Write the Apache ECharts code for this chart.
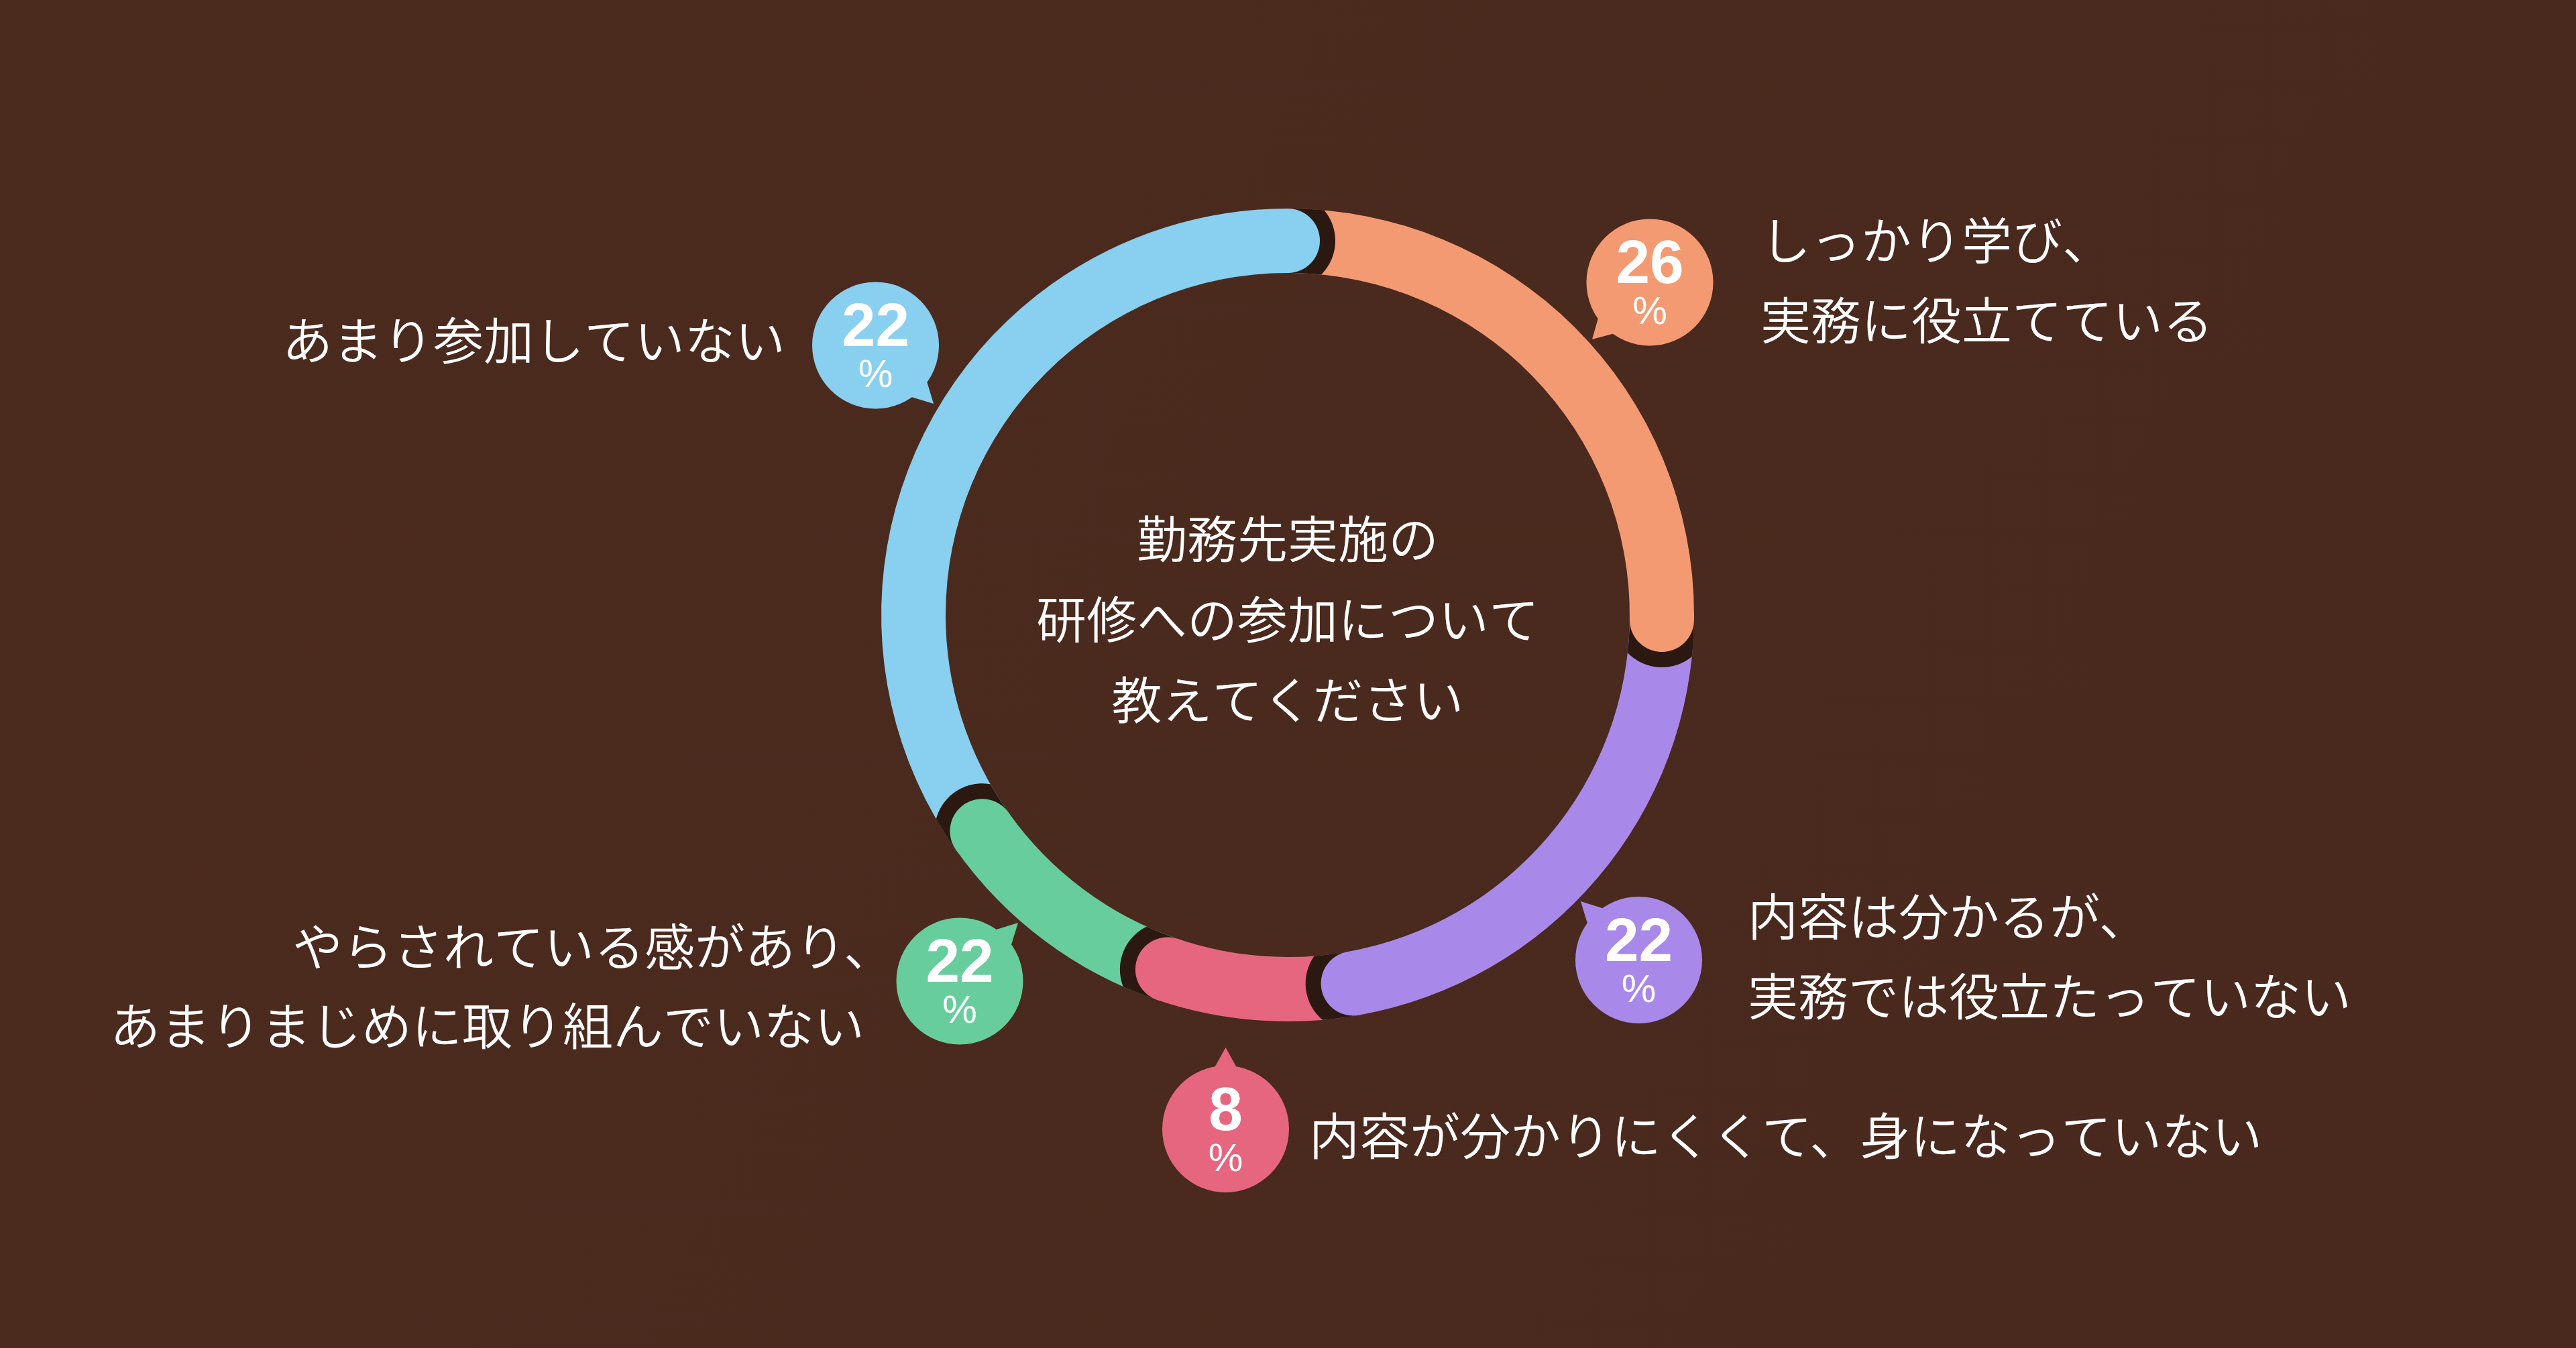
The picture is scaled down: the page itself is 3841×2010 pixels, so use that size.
<!DOCTYPE html>
<html>
<head>
<meta charset="utf-8">
<script src="https://cdn.jsdelivr.net/npm/echarts@6/dist/echarts.min.js"></script>
<style>
html,body{margin:0;padding:0;background:#4a291e;overflow:hidden;}
#chart{width:3841px;height:2010px;}
</style>
</head>
<body>
<div id="chart"></div>
<script>
// ---------------- data ----------------
const categories = [
  'しっかり学び、実務に役立てている',
  '内容は分かるが、実務では役立たっていない',
  '内容が分かりにくくて、身になっていない',
  'やらされている感があり、あまりまじめに取り組んでいない',
  'あまり参加していない'
];
const labelLines = [
  ['しっかり学び、', '実務に役立てている'],
  ['内容は分かるが、', '実務では役立たっていない'],
  ['内容が分かりにくくて、身になっていない'],
  ['やらされている感があり、', 'あまりまじめに取り組んでいない'],
  ['あまり参加していない']
];
const percentLabels = [26, 22, 8, 22, 22];          // numbers printed in the bubbles
const arcShares = [25.2, 22.0, 8.0, 10.0, 34.8];    // ring arc sizes as drawn
const centerTitle = ['勤務先実施の', '研修への参加について', '教えてください'];

// ---------------- style / layout ----------------
const colors = ['#f49a73', '#a889ea', '#e66680', '#68cd9c', '#89cfef'];
const DARK = '#2a1811';
const CX = 1920, CY = 917, R_IN = 510, R_OUT = 606, GAP = 23;
const BUBBLE_R = 94.5;
const bubbles = [ // center, tail tip offset
  {x: 2460, y: 421, tx: -86, ty: 85},
  {x: 2443.5, y: 1431.5, tx: -86.5, ty: -87.5},
  {x: 1827.5, y: 1683.5, tx: 0, ty: -121.5},
  {x: 1431, y: 1463, tx: 87, ty: -87},
  {x: 1305.5, y: 515, tx: 86.5, ty: 87}
];
const textPos = [ // per line: x, y, align
  [[2625, 358, 'left'], [2625, 477, 'left']],
  [[2606, 1366, 'left'], [2606, 1485, 'left']],
  [[1952, 1693, 'left']],
  [[436, 1411, 'left'], [164, 1529, 'left']],
  [[1171, 507, 'right']]
];
const JP = '"Noto Sans CJK JP", "Noto Sans CJK SC", sans-serif';
const NUM = '"Liberation Sans", Arial, Helvetica, sans-serif';
const JP_FONT = '350 75px ' + JP;

const total = arcShares.reduce((a, b) => a + b, 0);

function renderCap(params, api) {
  const i = params.dataIndex;
  let cum = 0;
  for (let k = 0; k <= i; k++) cum += arcShares[k];
  const th = cum / total * Math.PI * 2;
  const rm = (R_IN + R_OUT) / 2, half = (R_OUT - R_IN) / 2, R2 = half + GAP;
  const ux = Math.sin(th), uy = -Math.cos(th);
  const vx = Math.cos(th), vy = Math.sin(th);
  const c0x = CX + rm * ux, c0y = CY + rm * uy;
  const dark = [], cap = [];
  const N = 160;
  for (let s = 0; s <= N; s++) {
    const phi = Math.PI * s / N;
    const cp = Math.cos(phi), sp = Math.sin(phi);
    const px = c0x + R2 * (cp * ux + sp * vx);
    const py = c0y + R2 * (cp * uy + sp * vy);
    const dx = px - CX, dy = py - CY;
    const r = Math.hypot(dx, dy);
    const rc = Math.min(R_OUT, Math.max(R_IN, r));
    dark.push([CX + dx / r * rc, CY + dy / r * rc]);
    cap.push([c0x + half * (cp * ux + sp * vx), c0y + half * (cp * uy + sp * vy)]);
  }
  const back = th - 4 / rm;
  cap.unshift([CX + R_OUT * Math.sin(back), CY - R_OUT * Math.cos(back)]);
  cap.push([CX + R_IN * Math.sin(back), CY - R_IN * Math.cos(back)]);
  return {
    type: 'group',
    children: [
      {type: 'polygon', shape: {points: dark}, style: {fill: DARK}},
      {type: 'polygon', shape: {points: cap}, style: {fill: colors[i]}}
    ]
  };
}

const graphics = [];
// center title
centerTitle.forEach((t, j) => {
  graphics.push({
    type: 'text', silent: true, z: 10,
    x: CX, y: 803 + j * 120,
    style: {text: t, fill: '#ffffff', font: JP_FONT, align: 'center', verticalAlign: 'middle'}
  });
});
// bubbles and labels
bubbles.forEach((b, i) => {
  const ang = Math.atan2(b.ty, b.tx);
  const da = 11 * Math.PI / 180, rb = BUBBLE_R * 0.97;
  graphics.push({
    type: 'group', x: b.x, y: b.y, silent: true, z: 10,
    children: [
      {type: 'polygon', shape: {points: [
        [Math.cos(ang - da) * rb, Math.sin(ang - da) * rb],
        [b.tx, b.ty],
        [Math.cos(ang + da) * rb, Math.sin(ang + da) * rb],
        [0, 0]
      ]}, style: {fill: colors[i]}},
      {type: 'circle', shape: {cx: 0, cy: 0, r: BUBBLE_R}, style: {fill: colors[i]}},
      {type: 'text', x: 0, y: -24, style: {text: String(percentLabels[i]), fill: '#fff', font: 'bold 91px ' + NUM, align: 'center', verticalAlign: 'middle'}},
      {type: 'text', x: 0, y: 46, style: {text: '%', fill: '#fff', font: '58px ' + NUM, align: 'center', verticalAlign: 'middle'}}
    ]
  });
  labelLines[i].forEach((line, j) => {
    const p = textPos[i][j];
    graphics.push({
      type: 'text', x: p[0], y: p[1], silent: true, z: 10,
      style: {text: line, fill: '#ffffff', font: JP_FONT, align: p[2], verticalAlign: 'middle'}
    });
  });
});

const chart = echarts.init(document.getElementById('chart'), null, {renderer: 'canvas', width: 3841, height: 2010});
chart.setOption({
  animation: false,
  backgroundColor: new echarts.graphic.LinearGradient(0, 0, 1, 1, [
    {offset: 0, color: '#4c2b1f'},
    {offset: 1, color: '#49281d'}
  ]),
  series: [
    {
      type: 'pie',
      center: [CX, CY],
      radius: [R_IN, R_OUT],
      startAngle: 90,
      clockwise: true,
      silent: true,
      avoidLabelOverlap: false,
      label: {show: false},
      labelLine: {show: false},
      emphasis: {disabled: true},
      itemStyle: {borderWidth: 0},
      data: arcShares.map((v, i) => ({name: categories[i], value: v, itemStyle: {color: colors[i]}})),
      z: 1
    },
    {
      type: 'custom',
      coordinateSystem: 'none',
      silent: true,
      data: arcShares.map((v, i) => [i, v]),
      renderItem: renderCap,
      z: 2
    }
  ],
  graphic: graphics
});
</script>
</body>
</html>
